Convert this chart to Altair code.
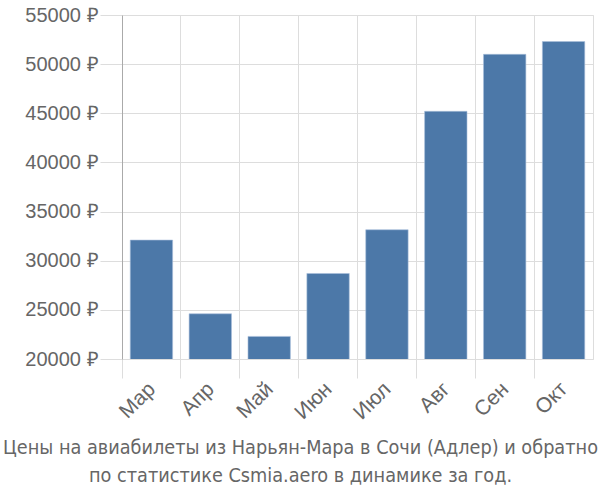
import altair as alt
import pandas as pd

months = ["Мар", "Апр", "Май", "Июн", "Июл", "Авг", "Сен", "Окт"]
prices = [32100, 24600, 22300, 28700, 33150, 45200, 51000, 52300]

df = pd.DataFrame({"month": months, "price": prices})

FONT = "Liberation Sans"

chart = alt.Chart(df).mark_bar(color="#4c78a8", stroke="#a9bfdb", strokeWidth=0.6,
                               clip=True, width=alt.RelativeBandSize(0.72)).encode(
    x=alt.X("month:N", sort=months, title=None,
            scale=alt.Scale(paddingInner=0, paddingOuter=0),
            axis=alt.Axis(bandPosition=0, grid=True, gridColor="#dddddd", domain=False,
                          tickColor="#dddddd", tickSize=19, labelAngle=315, labelAlign="right",
                          labelBaseline="top", labelFontSize=21, labelColor="#666666",
                          labelFont=FONT, labelPadding=0, labelOffset=-7)),
    y=alt.Y("price:Q", title=None,
            scale=alt.Scale(domain=[20000, 55000], zero=False, nice=False),
            axis=alt.Axis(values=[20000, 25000, 30000, 35000, 40000, 45000, 50000, 55000],
                          labelExpr="datum.value + ' ₽'", grid=True, gridColor="#dddddd",
                          domainColor="#aaaaaa", tickColor="#dddddd", tickSize=22,
                          labelFontSize=20, labelColor="#666666", labelFont=FONT,
                          labelPadding=2)),
).properties(
    width=471, height=344,
    autosize=alt.AutoSizeParams(type="none"),
    padding={"left": 122, "top": 15, "right": 7, "bottom": 141},
    title=alt.TitleParams(
        text=["Цены на авиабилеты из Нарьян-Мара в Сочи (Адлер) и обратно",
              "по статистике Csmia.aero в динамике за год."],
        orient="bottom", anchor="middle", dx=-57, offset=15,
        font="'Liberation Sans Narrow', 'DejaVu Sans Condensed', 'Liberation Sans'",
        fontSize=19.7, fontWeight="normal",
        color="#666666", lineHeight=28,
    ),
).configure_view(stroke="#dddddd")

chart.save("out.html", embed_options={"renderer": "svg", "actions": False})
